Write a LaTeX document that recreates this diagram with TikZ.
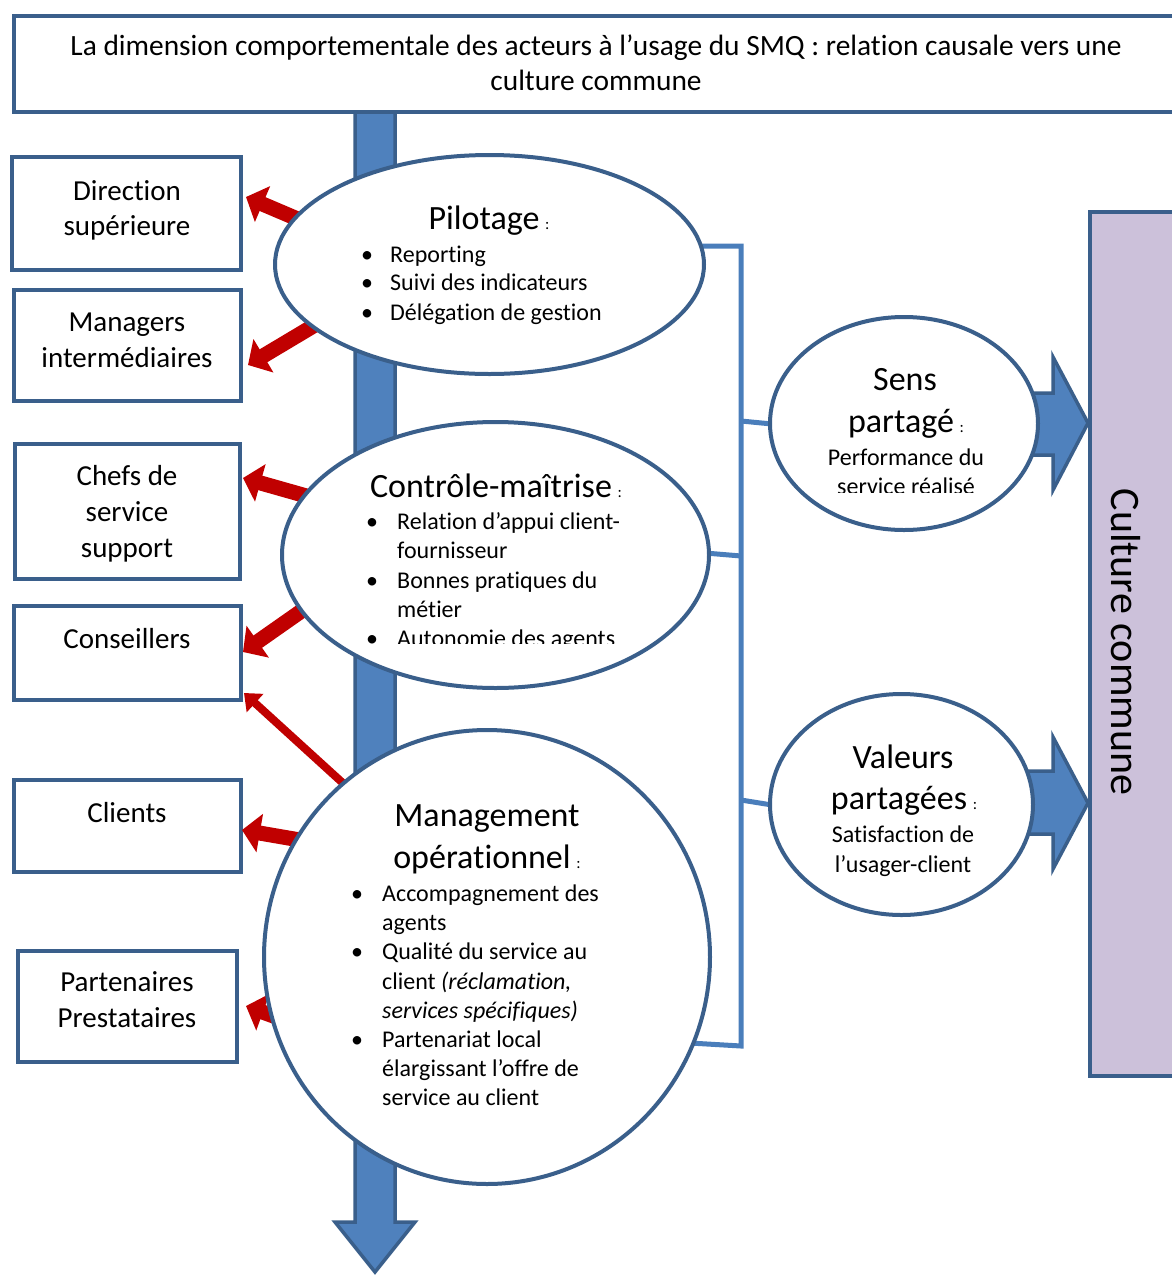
\documentclass[tikz,border=0pt]{standalone}
\usepackage{fontspec}
\setmainfont{Carlito}[Ligatures=NoCommon]
\usetikzlibrary{arrows.meta,shapes.geometric}
\definecolor{bdr}{HTML}{3A5F8B}
\definecolor{bfill}{HTML}{4F81BD}
\definecolor{bline}{HTML}{4A7EBB}
\definecolor{rarrow}{HTML}{C00000}
\definecolor{lav}{HTML}{CCC1DA}
\begin{document}
\begin{tikzpicture}[x=1pt,y=-1pt,
  box/.style={draw=bdr,line width=4pt,fill=white,inner sep=0pt},
  ell/.style={ellipse,draw=bdr,line width=4pt,fill=white,inner sep=0pt},
  redarr/.style={draw=rarrow,line width=15pt,-{Triangle[length=18pt,width=38pt]}},
  redthin/.style={draw=rarrow,line width=8pt,-{Triangle[length=15pt,width=24pt]}},
  blockarr/.style={draw=bdr,line width=3.5pt,fill=bfill,line join=miter},
  bracket/.style={draw=bline,line width=5pt},
  tbig/.style={font=\fontsize{29}{35}\selectfont,inner sep=0pt,anchor=base},
  thead/.style={font=\fontsize{34}{41}\selectfont,inner sep=0pt,anchor=base},
  tsmall/.style={font=\fontsize{24}{29}\selectfont,inner sep=0pt,anchor=base},
  tleft/.style={font=\fontsize{24}{29}\selectfont,inner sep=0pt,anchor=base west},
]
\useasboundingbox (0,0) rectangle (1172,1275);
\newcommand{\smallcolon}{\,{\fontsize{16}{16}\selectfont :}}

% vertical blue arrow
\draw[blockarr] (355,100) -- (395,100) -- (395,1222) -- (415,1222) -- (375,1272) -- (335,1222) -- (355,1222) -- cycle;

% title box
\node[box,minimum width=1200pt,minimum height=96pt,anchor=north west] (title) at (12,14) {};
\node[tbig,font=\fontsize{29.4}{35}\selectfont] at (596,55) {La dimension comportementale des acteurs à l’usage du SMQ : relation causale vers une};
\node[tbig,font=\fontsize{29.4}{35}\selectfont] at (596,90) {culture commune};

% left boxes
\node[box,minimum width=229pt,minimum height=113pt] (dir) at (126.5,213.5) {};
\node[box,minimum width=227pt,minimum height=111pt] (mgr) at (127.5,345.5) {};
\node[box,minimum width=225pt,minimum height=135pt] (chef) at (127.5,511) {};
\node[box,minimum width=227pt,minimum height=94pt] (cons) at (127.5,653) {};
\node[box,minimum width=227pt,minimum height=92pt] (cli) at (127.5,826) {};
\node[box,minimum width=219pt,minimum height=111pt] (part) at (127,1006) {};

\node[tbig] at (127,200) {Direction};
\node[tbig] at (127,235) {supérieure};
\node[tbig] at (127,331) {Managers};
\node[tbig] at (127,367) {intermédiaires};
\node[tbig] at (127,485) {Chefs de};
\node[tbig] at (127,521) {service};
\node[tbig] at (127,557) {support};
\node[tbig] at (127,648) {Conseillers};
\node[tbig] at (127,822) {Clients};
\node[tbig] at (127,991) {Partenaires};
\node[tbig] at (127,1027) {Prestataires};

% culture commune
\node[draw=bdr,line width=4pt,fill=lav,minimum width=100pt,minimum height=864pt,anchor=north west,inner sep=0pt] (cult) at (1088,210) {};
\node[font=\fontsize{42}{50}\selectfont,rotate=-90,inner sep=0pt] at (1126,642) {Culture commune};

% red arrows (tails hidden under ellipses)
\coordinate (r1) at (300,220);
\coordinate (r2) at (315,325);
\coordinate (r3) at (310,497);
\coordinate (r4) at (310,605);
\coordinate (r5) at (345,785);
\coordinate (r6) at (300,840);
\coordinate (r7) at (290,1022);
\coordinate (d1) at (246,197);
\coordinate (d2) at (248,365);
\coordinate (d3) at (243,478);
\coordinate (d4) at (243,652);
\coordinate (d5) at (244,693);
\coordinate (d6) at (242,830);
\coordinate (d7) at (246,1006);
\draw[redarr] (r1) -- (d1);
\draw[redarr] (r2) -- (d2);
\draw[redarr] (r3) -- (d3);
\draw[redarr] (r4) -- (d4);
\draw[redthin] (r5) -- (d5);
\draw[redarr] (r6) -- (d6);
\draw[redarr] (r7) -- (d7);

% bracket
\coordinate (bt) at (741,246);
\coordinate (bb) at (741,1046);
\draw[bracket] (700,246) -- (bt) -- (bb) -- (690,1043);
\draw[bracket] (705,553) -- (741,556);
\draw[bracket] (741,421) -- (772,424);
\draw[bracket] (741,800) -- (772,805);

% right block arrows
\draw[blockarr] (1000,393) -- (1053,393) -- (1053,357) -- (1088,423) -- (1053,490) -- (1053,455) -- (1000,455) -- cycle;
\draw[blockarr] (1000,771) -- (1053,771) -- (1053,737) -- (1088,803) -- (1053,869) -- (1053,834) -- (1000,834) -- cycle;

% ellipses
\node[ell,minimum width=429pt,minimum height=219pt] (pil) at (489.5,264.5) {};
\node[ell,minimum width=427pt,minimum height=266pt] (ctl) at (495.5,555) {};
\node[ell,minimum width=446pt,minimum height=454pt] (mop) at (487,957) {};
\node[ell,minimum width=268pt,minimum height=213pt] (sens) at (904,423.5) {};
\node[ell,minimum width=263pt,minimum height=221pt] (val) at (901.5,804.5) {};

% Pilotage text
\node[thead] at (489,229) {Pilotage\smallcolon};
\node[tsmall] at (367,262) {•};
\node[tleft] at (390,262) {Reporting};
\node[tsmall] at (367,290) {•};
\node[tleft] at (390,290) {Suivi des indicateurs};
\node[tsmall] at (367,320) {•};
\node[tleft] at (390,320) {Délégation de gestion};

% Controle text
\node[thead] at (496,497) {Contrôle-maîtrise\smallcolon};
\begin{scope}
\clip (300,500) rectangle (700,643);
\node[tsmall] at (372,529) {•};
\node[tleft] at (397,529) {Relation d’appui client-};
\node[tleft] at (397,558) {fournisseur};
\node[tsmall] at (372,588) {•};
\node[tleft] at (397,588) {Bonnes pratiques du};
\node[tleft] at (397,617) {métier};
\node[tsmall] at (372,646) {•};
\node[tleft] at (397,646) {Autonomie des agents};
\end{scope}

% Management text
\node[thead] at (487,826) {Management};
\node[thead] at (487,868) {opérationnel\smallcolon};
\node[tsmall] at (357,901) {•};
\node[tleft] at (382,901) {Accompagnement des};
\node[tleft] at (382,930) {agents};
\node[tsmall] at (357,959) {•};
\node[tleft] at (382,959) {Qualité du service au};
\node[tleft] at (382,989) {client \textit{(réclamation,}};
\node[tleft] at (382,1018) {\textit{services spécifiques)}};
\node[tsmall] at (357,1047) {•};
\node[tleft] at (382,1047) {Partenariat local};
\node[tleft] at (382,1076) {élargissant l’offre de};
\node[tleft] at (382,1105) {service au client};

% Sens partage text
\node[thead] at (905,390) {Sens};
\node[thead] at (906,432) {partagé\smallcolon};
\begin{scope}
\clip (780,440) rectangle (1030,492);
\node[tsmall] at (906,465) {Performance du};
\node[tsmall] at (906,494) {service réalisé};
\end{scope}

% Valeurs partagees text
\node[thead] at (903,768) {Valeurs};
\node[thead] at (904,809) {partagées\smallcolon};
\node[tsmall] at (903,842) {Satisfaction de};
\node[tsmall] at (903,872) {l’usager-client};
\end{tikzpicture}
\end{document}
